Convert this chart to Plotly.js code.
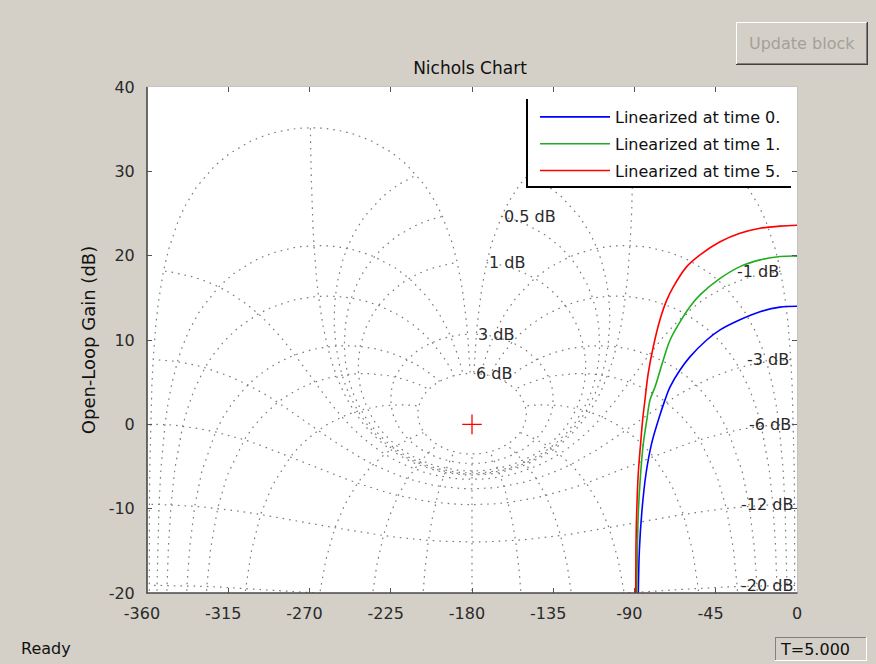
<!DOCTYPE html>
<html>
<head>
<meta charset="utf-8">
<script src="https://cdn.plot.ly/plotly-3.0.1.min.js"></script>
<style>
html, body { margin: 0; padding: 0; background: #d4d0c8; }
#chart { width: 876px; height: 664px; }
</style>
</head>
<body>
<div id="chart"></div>
<script>
// ---- Series: open-loop phase (deg) and gain (dB) ----
const seriesNames = ['Linearized at time 0.', 'Linearized at time 1.', 'Linearized at time 5.'];
const seriesColors = ['#0000ff', '#1fae1f', '#ff0000'];

const phaseT0 = [0, -9.4, -20.5, -31.6, -42.6, -50.0, -59.3, -64.8, -70.3, -73.1, -76.8, -80.5, -83.6, -86.0, -87.3, -87.9, -88.2];
const gainT0  = [14.0, 13.9, 13.35, 12.4, 11.2, 10.0, 8.0, 6.45, 4.45, 2.9, 0.5, -2.25, -5.8, -10.55, -14.9, -20.0, -25.0];

const phaseT1 = [0, -9.4, -20.5, -31.6, -42.6, -53.7, -59.3, -64.8, -70.3, -74.1, -78.6, -81.4, -83.2, -85.1, -86.6, -87.9, -88.4, -88.8, -89.0];
const gainT1  = [19.95, 19.9, 19.5, 18.7, 17.3, 15.35, 13.95, 12.15, 10.0, 7.6, 4.45, 2.9, 0.5, -2.25, -5.8, -10.55, -14.9, -20.0, -25.0];

const phaseT5 = [0, -9.4, -20.5, -31.6, -42.6, -53.7, -61.1, -68.5, -72.2, -75.9, -79.6, -82.4, -84.2, -85.5, -86.6, -87.9, -88.8, -89.2, -89.3, -89.4];
const gainT5  = [23.6, 23.5, 23.25, 22.65, 21.65, 20.1, 18.7, 16.3, 14.7, 12.4, 9.2, 6.05, 2.9, 0.5, -2.25, -5.8, -10.55, -14.9, -20.0, -25.0];

// critical point marker
const criticalPhase = [-180];
const criticalGain = [0];

// ---- Nichols grid definition (closed-loop gain and phase levels) ----
const gridGainsDb = [6, 3, 1, 0.5, 0.25, 0, -1, -3, -6, -12, -20, -40];
const gridPhasesDeg = [-1, -5, -10, -20, -30, -50, -90, -120, -150, -180];
const labeledGainsDb = [6, 3, 1, 0.5, -1, -3, -6, -12, -20];
const gainLineSamplesDeg = [-1, -1.5, -2, -3, -4, -5, -6, -7, -8, -10, -12, -15, -20, -25, -30, -35, -40, -50, -60, -70, -80, -90, -100, -110, -120, -130, -140, -150, -160, -170, -180];
const phaseLineSamplesDb = [-80, -60, -50, -40, -30, -25, -20, -16, -12, -9, -6, -5, -4, -3, -2.5, -2, -1.5, -1, -0.75, -0.5, -0.4, -0.3, -0.2, -0.15, -0.1, -0.07, -0.05, -0.03, -0.02, -0.01, 0, 0.01, 0.02, 0.03, 0.05, 0.07, 0.1, 0.15, 0.2, 0.3, 0.4, 0.5, 0.75, 1, 1.5, 2, 2.5, 3, 4, 5, 6];

// ---- Axis ticks ----
const xTickVals = [-360, -315, -270, -225, -180, -135, -90, -45, 0];
const yTickVals = [-20, -10, 0, 10, 20, 30, 40];

// open-loop point for closed-loop magnitude (dB) and phase (deg)
function openLoop(magDb, phDeg) {
  const r = Math.pow(10, magDb / 20), a = phDeg * Math.PI / 180;
  const tr = r * Math.cos(a), ti = r * Math.sin(a);
  const dr = 1 - tr, di = -ti;
  const den = dr * dr + di * di;
  const gr = (tr * dr + ti * di) / den, gi = (ti * dr - tr * di) / den;
  let ph = Math.atan2(gi, gr) * 180 / Math.PI;
  if (ph > 0) ph -= 360;
  return [ph, 20 * Math.log10(Math.hypot(gr, gi))];
}

const gx = [], gy = [];
// constant closed-loop gain lines
const fullPhi = gainLineSamplesDeg.concat(gainLineSamplesDeg.slice(0, -1).reverse().map(p => -360 - p));
gridGainsDb.forEach(m => {
  fullPhi.forEach(p => { const q = openLoop(m, p); gx.push(q[0]); gy.push(q[1]); });
  gx.push(null); gy.push(null);
});
// constant closed-loop phase lines (and their mirror images)
gridPhasesDeg.forEach(t => {
  const pts = phaseLineSamplesDb.map(g => openLoop(g, t));
  pts.forEach(q => { gx.push(q[0]); gy.push(q[1]); });
  gx.push(null); gy.push(null);
  if (t !== -180) {
    pts.forEach(q => { gx.push(-360 - q[0]); gy.push(q[1]); });
    gx.push(null); gy.push(null);
  }
});

const FONT = 'DejaVu Sans';
const TXT = '#2a2a2a';
const NB = '\u00a0\u00a0';

const curveLine = c => ({ color: c, width: 1.6, shape: 'spline', smoothing: 1.0 });

const traces = [
  { x: gx, y: gy, type: 'scatter', mode: 'lines', showlegend: false, hoverinfo: 'skip',
    line: { color: '#7a7a7a', width: 1.2, dash: '1.6px,5px' }, connectgaps: false },
  { x: phaseT0, y: gainT0, type: 'scatter', mode: 'lines', name: seriesNames[0], legendgroup: 'a',
    line: curveLine(seriesColors[0]) },
  { x: phaseT1, y: gainT1, type: 'scatter', mode: 'lines', name: seriesNames[1], legendgroup: 'b',
    line: curveLine(seriesColors[1]) },
  { x: phaseT5, y: gainT5, type: 'scatter', mode: 'lines', name: seriesNames[2], legendgroup: 'c',
    line: curveLine(seriesColors[2]) },
  { x: criticalPhase, y: criticalGain, type: 'scatter', mode: 'markers', showlegend: false, hoverinfo: 'skip',
    marker: { symbol: 'cross-thin', size: 14, line: { color: '#ff0000', width: 1.3 } } }
];

// pixel -> paper helpers (plot area: x 147..797, y 87..593)
const PX = p => (p - 147) / 650;
const PY = p => (593 - p) / 506;

const gridLabels = labeledGainsDb.map(m => {
  const q = openLoop(m, -1);
  return { x: q[0], y: q[1], xref: 'x', yref: 'y', text: m + ' dB', showarrow: false,
    xanchor: m > 0 ? 'left' : 'right', yanchor: 'middle', font: { family: FONT, size: 16, color: TXT } };
});

function hline(x0, x1, y, color, w) {
  return { type: 'line', xref: 'paper', yref: 'paper', x0: PX(x0), x1: PX(x1), y0: PY(y), y1: PY(y),
    line: { color: color, width: w || 1 }, layer: 'above' };
}
function vline(x, y0, y1, color, w) {
  return { type: 'line', xref: 'paper', yref: 'paper', x0: PX(x), x1: PX(x), y0: PY(y0), y1: PY(y1),
    line: { color: color, width: w || 1 }, layer: 'above' };
}
function rect(x0, y0, x1, y1, fill) {
  return { type: 'rect', xref: 'paper', yref: 'paper', x0: PX(x0), x1: PX(x1), y0: PY(y0), y1: PY(y1),
    fillcolor: fill, line: { width: 0 }, layer: 'above' };
}

const shapes = [
  // axes left/bottom dark lines
  vline(147, 87, 593.5, '#4a4a4a', 1.6),
  hline(146.5, 797.5, 593, '#4a4a4a', 1.6),
  // legend box
  rect(527, 100, 790, 187, '#ffffff'),
  vline(527, 99, 188, '#000000', 2),
  hline(526, 791, 187, '#000000', 2),
  // Update block button
  rect(736, 22, 867, 64, '#d4d0c8'),
  hline(736, 866, 22.5, '#ffffff'), vline(736.5, 22, 64, '#ffffff'),
  hline(736, 868, 64.5, '#404040'), vline(867.5, 22, 65, '#404040'),
  hline(737, 867, 63.5, '#808080'), vline(866.5, 23, 64, '#808080'),
  // status box
  rect(775, 637, 866, 661, '#d4d0c8'),
  hline(775, 866, 637.5, '#808080'), vline(775.5, 637, 661, '#808080'),
  hline(775, 867, 660.5, '#ffffff'), vline(866.5, 637, 661, '#ffffff')
];

const annotations = gridLabels.concat([
  { xref: 'paper', yref: 'paper', x: PX(801.5), y: PY(43.5), text: 'Update block', showarrow: false,
    xanchor: 'center', yanchor: 'middle', font: { family: FONT, size: 16, color: '#a3a09a' } },
  { xref: 'paper', yref: 'paper', x: PX(19), y: PY(648), text: 'Ready', showarrow: false,
    xanchor: 'left', yanchor: 'middle', font: { family: FONT, size: 16, color: '#111' } },
  { xref: 'paper', yref: 'paper', x: PX(778), y: PY(649), text: 'T=5.000', showarrow: false,
    xanchor: 'left', yanchor: 'middle', font: { family: FONT, size: 16, color: '#111' } }
]);

const axisCommon = {
  showgrid: false, zeroline: false, showline: true, linecolor: '#c4c4c4', linewidth: 1,
  mirror: 'ticks', ticks: 'inside', ticklen: 5, tickwidth: 1, tickcolor: '#555',
  tickfont: { family: FONT, size: 16, color: TXT }, fixedrange: true
};

const layout = {
  width: 876, height: 664,
  paper_bgcolor: '#d4d0c8', plot_bgcolor: '#ffffff',
  margin: { l: 147, r: 79, t: 87, b: 71, pad: 0 },
  title: { text: 'Nichols Chart', font: { family: FONT, size: 17, color: '#111' },
    x: PX(470), xref: 'paper', xanchor: 'center', y: 1 - 68 / 664, yref: 'container', yanchor: 'middle' },
  xaxis: Object.assign({}, axisCommon, { range: [-360, 0], tickvals: xTickVals,
    ticktext: xTickVals.map(v => v < 0 ? String(v) + NB : String(v)), ticklabelstandoff: 6 }),
  yaxis: Object.assign({}, axisCommon, { range: [-20, 40], tickvals: yTickVals, ticktext: yTickVals.map(String),
    ticklabelstandoff: 8,
    title: { text: 'Open-Loop Gain (dB)', font: { family: FONT, size: 18, color: '#111' }, standoff: 8 } }),
  showlegend: true,
  legend: { x: PX(535), y: PY(100), xanchor: 'left', yanchor: 'top', bgcolor: 'rgba(0,0,0,0)', borderwidth: 0,
    font: { family: FONT, size: 16, color: '#111' }, itemwidth: 70, traceorder: 'grouped', tracegroupgap: 3 },
  shapes: shapes,
  annotations: annotations
};

Plotly.newPlot('chart', traces, layout, { staticPlot: true, displayModeBar: false });
</script>
</body>
</html>
